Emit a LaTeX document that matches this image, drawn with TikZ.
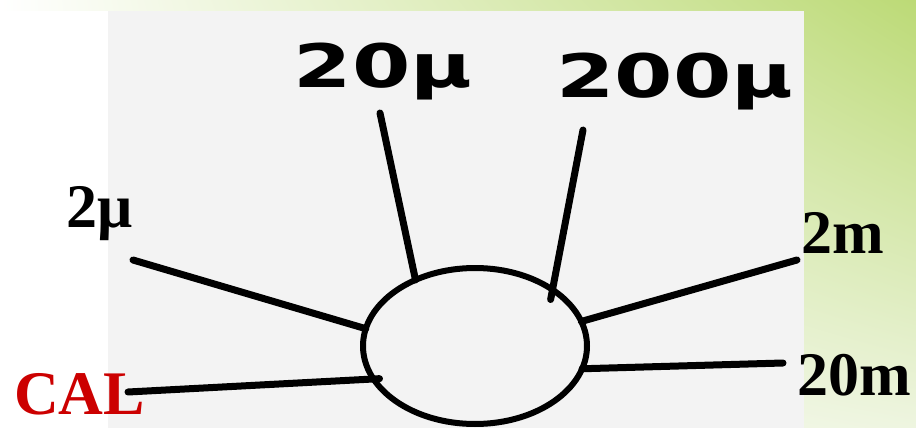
\documentclass[tikz,border=0pt]{standalone}
\usepackage{fontspec}
\setmainfont{Liberation Serif}
\newfontfamily\handfont{DejaVu Sans}
\usetikzlibrary{shapes.geometric,shadings}
\definecolor{slidegreen}{RGB}{188,218,118}
\definecolor{palegreen}{RGB}{238,245,224}
\definecolor{paper}{RGB}{243,243,243}
\definecolor{calred}{RGB}{204,0,0}
\tikzset{
  spoke/.style={line width=7pt,line cap=round},
  scalelabel/.style={font=\fontsize{62}{62}\selectfont\bfseries,inner sep=0pt,anchor=base west},
  hand/.style={font=\handfont\bfseries\fontsize{60}{60}\selectfont,inner sep=0pt,anchor=base}
}
\begin{document}
\begin{tikzpicture}[x=1pt,y=-1pt]
\useasboundingbox (0,0) rectangle (916,428);
\shade[upper left=white,lower left=white,upper right=slidegreen,lower right=palegreen] (0,0) rectangle (916,428);
\fill[white] (0,11) rectangle (108,428);
\fill[paper] (108,11) rectangle (804,428);
\node[draw,ellipse,line width=6pt,minimum width=224pt,minimum height=156pt,inner sep=0pt,outer sep=0pt] (dial) at (475,346) {};
% free ends of the spokes
\coordinate (e2u) at (133,260);
\coordinate (ecal) at (128,392);
\coordinate (e20u) at (380,113);
\coordinate (e200u) at (583,130);
\coordinate (e2m) at (797,260);
\coordinate (e20m) at (783,363);
\draw[spoke] (e2u) -- (dial.171);
\draw[spoke,shorten >=-6pt] (ecal) -- (dial.198);
\draw[spoke] (e20u) -- (dial.132);
\draw[spoke,shorten >=-10pt] (e200u) -- (dial.36);
\draw[spoke] (e2m) -- (dial.13);
\draw[spoke] (e20m) -- (dial.348);
% labels
\node[scalelabel] (l2u) at (66,227) {2μ};
\node[scalelabel] (l2m) at (801,253) {2m};
\node[scalelabel] (l20m) at (797,395) {20m};
\node[scalelabel,text=calred] (lcal) at (14,414) {CAL};
\node[hand] (l20u) at (383,88) {\scalebox{1.4}[1]{20μ}};
\node[hand] (l200u) at (675,97) {\scalebox{1.4}[1]{200μ}};
\end{tikzpicture}
\end{document}
